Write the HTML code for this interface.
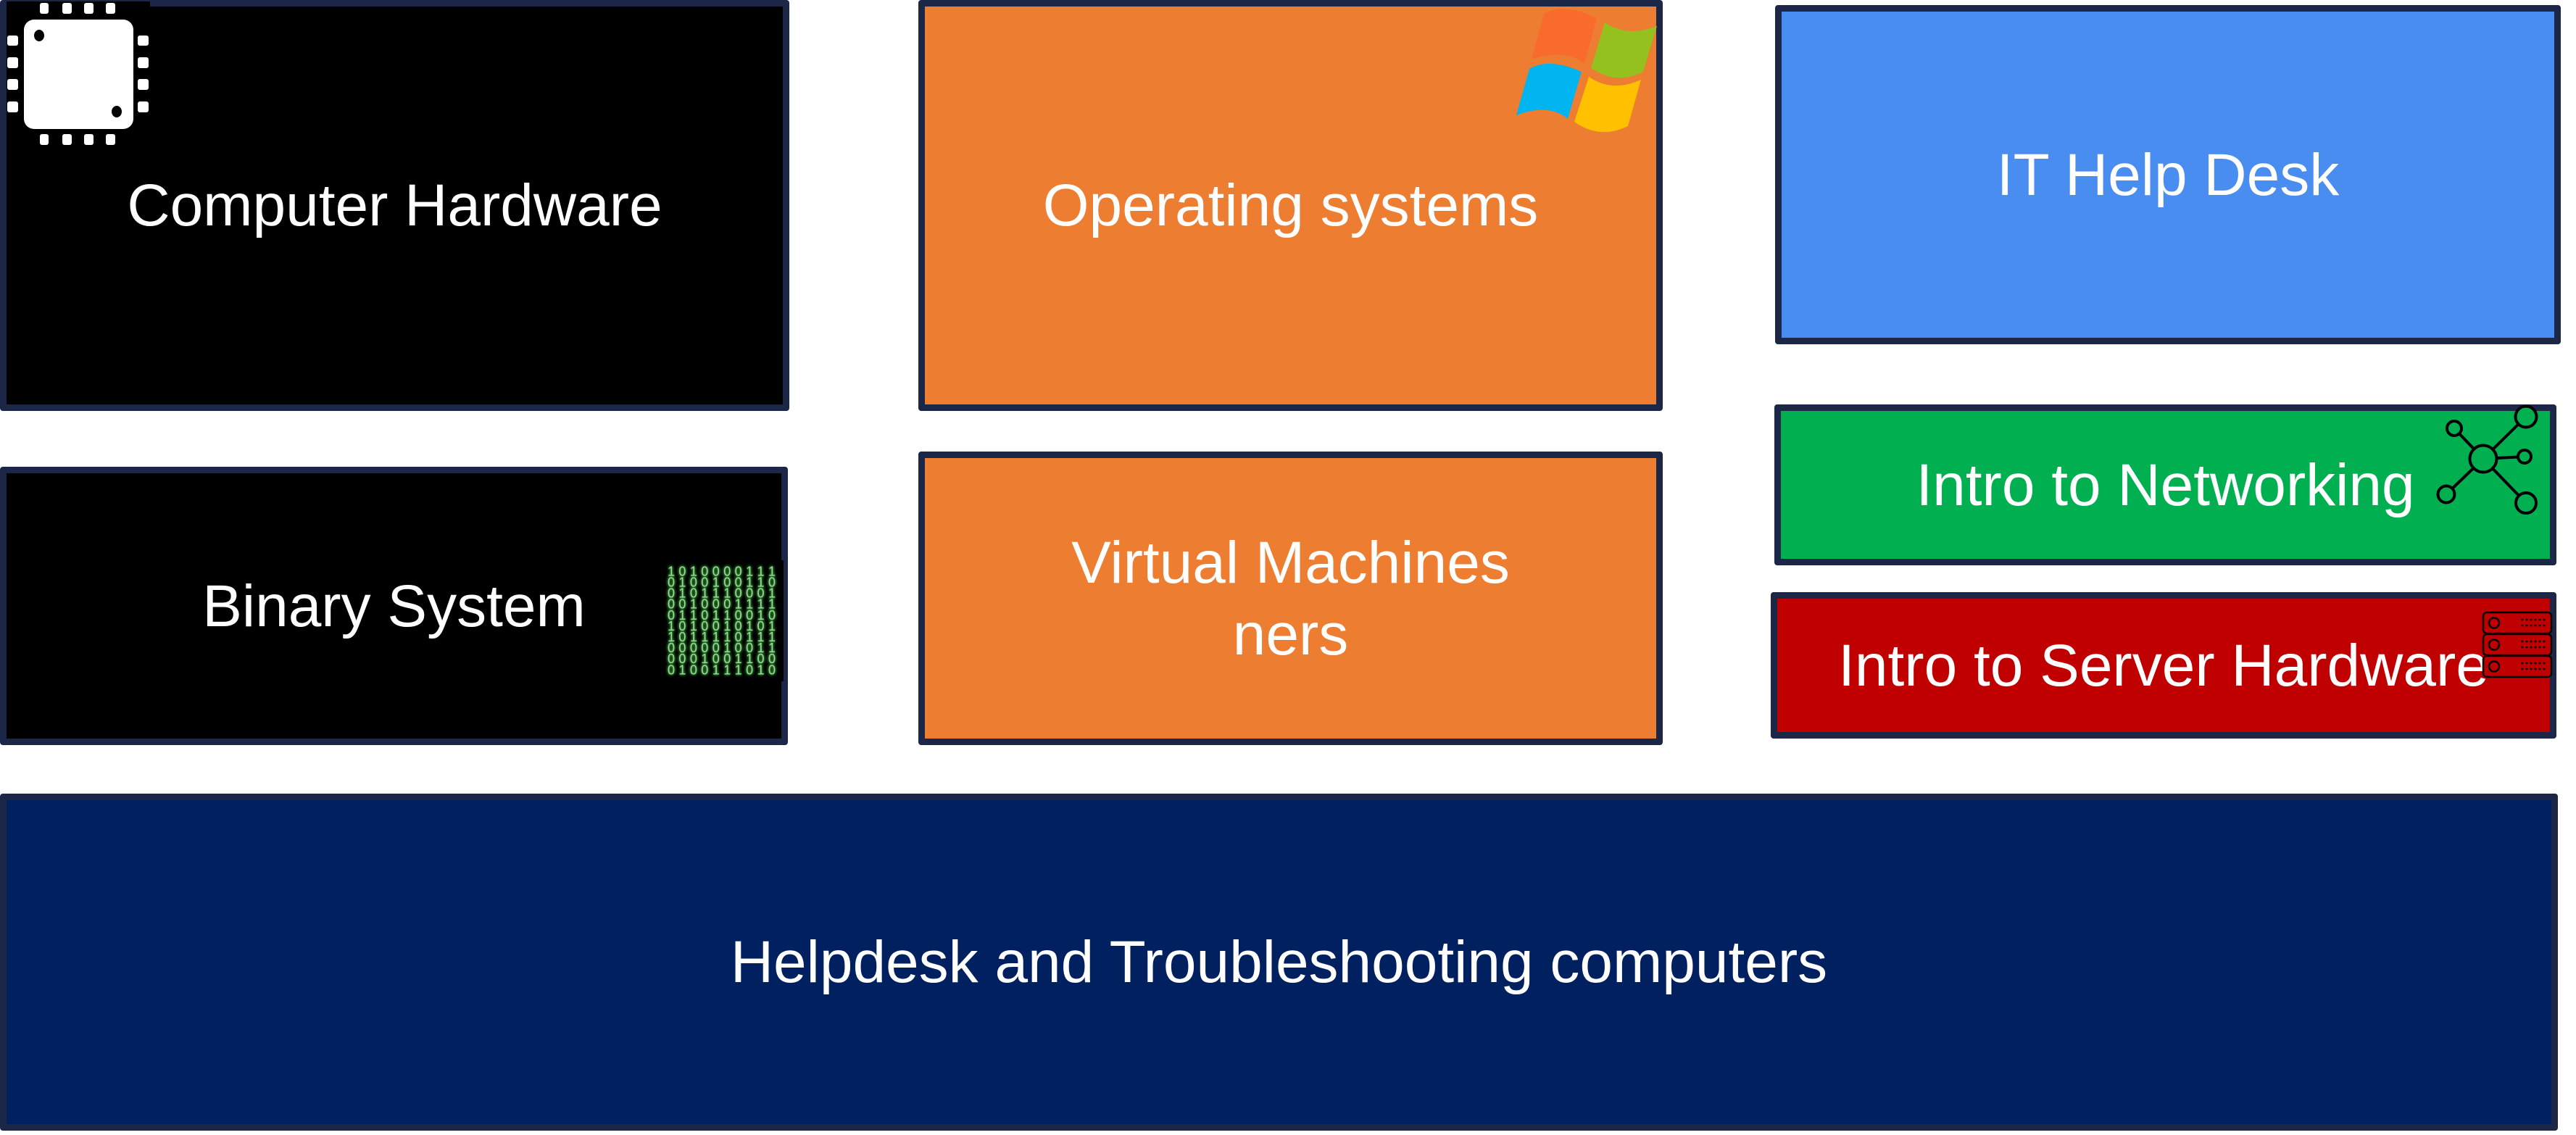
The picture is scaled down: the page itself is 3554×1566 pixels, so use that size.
<!DOCTYPE html>
<html>
<head>
<meta charset="utf-8">
<style>
  html, body { margin:0; padding:0; }
  body { width:3554px; height:1566px; background:#ffffff; position:relative; overflow:hidden;
         font-family:"Liberation Sans", Arial, sans-serif; }
  .box { position:absolute; box-sizing:border-box; border:9px solid #1c2747; border-radius:4px;
         display:flex; align-items:center; justify-content:center; text-align:center;
         color:#ffffff; font-size:82px; line-height:99px; white-space:nowrap; }
  svg.ov { position:absolute; left:0; top:0; }
</style>
</head>
<body>
  <div class="box" style="left:0px; top:0px; width:1089px; height:567px; background:#000000;">Computer Hardware</div>
  <div class="box" style="left:1267px; top:0px; width:1027px; height:567px; background:#ed7d31;">Operating systems</div>
  <div class="box" style="left:2449px; top:7px; width:1084px; height:468px; background:#4a8df0;">IT Help Desk</div>
  <div class="box" style="left:0px; top:644px; width:1087px; height:384px; background:#000000;">Binary System</div>
  <div class="box" style="left:1267px; top:623px; width:1027px; height:405px; background:#ed7d31;">Virtual Machines<br>ners</div>
  <div class="box" style="left:2448px; top:558px; width:1079px; height:222px; background:#00b050;">Intro to Networking</div>
  <div class="box" style="left:2443px; top:817px; width:1084px; height:202px; background:#c00000;">Intro to Server Hardware</div>
  <div class="box" style="left:0px; top:1095px; width:3529px; height:465px; background:#002060;">Helpdesk and Troubleshooting computers</div>

  <svg class="ov" width="3554" height="1566" viewBox="0 0 3554 1566" xmlns="http://www.w3.org/2000/svg">
    <!-- Chip icon -->
    <rect x="9" y="2" width="198" height="198" fill="#000000"/>
    <g fill="#ffffff">
      <rect x="33" y="27" width="151" height="151" rx="14" ry="14"/>
      <rect x="55" y="4" width="12" height="15" rx="3"/>
      <rect x="86" y="4" width="13" height="15" rx="3"/>
      <rect x="116" y="4" width="13" height="15" rx="3"/>
      <rect x="146" y="4" width="13" height="15" rx="3"/>
      <rect x="55" y="185" width="12" height="15" rx="3"/>
      <rect x="86" y="185" width="13" height="15" rx="3"/>
      <rect x="116" y="185" width="13" height="15" rx="3"/>
      <rect x="146" y="185" width="13" height="15" rx="3"/>
      <rect x="10" y="49" width="15" height="14" rx="3"/>
      <rect x="10" y="79" width="15" height="15" rx="3"/>
      <rect x="10" y="109" width="15" height="15" rx="3"/>
      <rect x="10" y="140" width="15" height="15" rx="3"/>
      <rect x="190" y="49" width="15" height="14" rx="3"/>
      <rect x="190" y="79" width="15" height="15" rx="3"/>
      <rect x="190" y="109" width="15" height="15" rx="3"/>
      <rect x="190" y="140" width="15" height="15" rx="3"/>
    </g>
    <ellipse cx="54" cy="49" rx="7" ry="8" fill="#000000"/>
    <ellipse cx="161" cy="154" rx="7" ry="8" fill="#000000"/>

    <!-- Windows logo -->
    <path d="M2130,19 Q2157,3 2203,25 L2186,88 Q2160,66 2113,82 Z" fill="#f96b2d"/>
    <path d="M2214,31 Q2245,52 2286,36 L2267,99 Q2230,118 2195,94 Z" fill="#95c11f"/>
    <path d="M2110,95 Q2137,79 2182,99 L2163,164 Q2137,142 2092,159 Z" fill="#00b4f0"/>
    <path d="M2192,106 Q2224,128 2264,110 L2246,174 Q2207,193 2172,168 Z" fill="#ffc000"/>

    <!-- Binary matrix image -->
    <rect x="918" y="773" width="163" height="167" fill="#000000"/>
    <g fill="#93e093" font-family="'Liberation Sans', Arial, sans-serif" font-size="18" text-anchor="middle" style="filter:drop-shadow(0 0 2px #4caf4c) drop-shadow(0 0 1px #3a8a3a)">
      <text x="926 941.4 956.9 972.3 987.8 1003.2 1018.6 1034.1 1049.5 1065" y="794.4">1010000111</text>
      <text x="926 941.4 956.9 972.3 987.8 1003.2 1018.6 1034.1 1049.5 1065" y="809.5">0100100110</text>
      <text x="926 941.4 956.9 972.3 987.8 1003.2 1018.6 1034.1 1049.5 1065" y="824.6">0101110001</text>
      <text x="926 941.4 956.9 972.3 987.8 1003.2 1018.6 1034.1 1049.5 1065" y="839.7">0010001111</text>
      <text x="926 941.4 956.9 972.3 987.8 1003.2 1018.6 1034.1 1049.5 1065" y="854.8">0110110010</text>
      <text x="926 941.4 956.9 972.3 987.8 1003.2 1018.6 1034.1 1049.5 1065" y="869.9">1010010101</text>
      <text x="926 941.4 956.9 972.3 987.8 1003.2 1018.6 1034.1 1049.5 1065" y="885">1011110111</text>
      <text x="926 941.4 956.9 972.3 987.8 1003.2 1018.6 1034.1 1049.5 1065" y="900.1">0000010011</text>
      <text x="926 941.4 956.9 972.3 987.8 1003.2 1018.6 1034.1 1049.5 1065" y="915.2">0001001100</text>
      <text x="926 941.4 956.9 972.3 987.8 1003.2 1018.6 1034.1 1049.5 1065" y="930.3">0100111010</text>
    </g>

    <!-- Network icon -->
    <g stroke="#000000" stroke-width="4" fill="#00b050">
      <line x1="3426" y1="633" x2="3485" y2="575"/>
      <line x1="3426" y1="633" x2="3386" y2="591"/>
      <line x1="3426" y1="633" x2="3483" y2="630"/>
      <line x1="3426" y1="633" x2="3375" y2="682"/>
      <line x1="3426" y1="633" x2="3485" y2="694"/>
      <circle cx="3426" cy="633" r="18.5"/>
      <circle cx="3485" cy="575" r="14.5"/>
      <circle cx="3386" cy="591" r="10"/>
      <circle cx="3483" cy="630" r="9"/>
      <circle cx="3375" cy="682" r="11.5"/>
      <circle cx="3485" cy="694" r="14"/>
    </g>

    <!-- Server icon -->
    <g stroke="#000000" stroke-width="2.5" fill="#c00000">
      <rect x="3426" y="845" width="94" height="29" rx="5"/>
      <rect x="3426" y="875" width="94" height="29" rx="5"/>
      <rect x="3426" y="905" width="94" height="29" rx="5"/>
      <circle cx="3441" cy="859.5" r="7"/>
      <circle cx="3441" cy="889.5" r="7"/>
      <circle cx="3441" cy="919.5" r="7"/>
    </g>
    <g fill="#000000">
      <g>
        <circle cx="3480" cy="855" r="1.5"/><circle cx="3486" cy="855" r="1.5"/><circle cx="3492" cy="855" r="1.5"/>
        <circle cx="3498" cy="855" r="1.5"/><circle cx="3504" cy="855" r="1.5"/><circle cx="3510" cy="855" r="1.5"/>
        <circle cx="3480" cy="863" r="1.5"/><circle cx="3486" cy="863" r="1.5"/><circle cx="3492" cy="863" r="1.5"/>
        <circle cx="3498" cy="863" r="1.5"/><circle cx="3504" cy="863" r="1.5"/><circle cx="3510" cy="863" r="1.5"/>
      </g>
      <g transform="translate(0,30)">
        <circle cx="3480" cy="855" r="1.5"/><circle cx="3486" cy="855" r="1.5"/><circle cx="3492" cy="855" r="1.5"/>
        <circle cx="3498" cy="855" r="1.5"/><circle cx="3504" cy="855" r="1.5"/><circle cx="3510" cy="855" r="1.5"/>
        <circle cx="3480" cy="863" r="1.5"/><circle cx="3486" cy="863" r="1.5"/><circle cx="3492" cy="863" r="1.5"/>
        <circle cx="3498" cy="863" r="1.5"/><circle cx="3504" cy="863" r="1.5"/><circle cx="3510" cy="863" r="1.5"/>
      </g>
      <g transform="translate(0,60)">
        <circle cx="3480" cy="855" r="1.5"/><circle cx="3486" cy="855" r="1.5"/><circle cx="3492" cy="855" r="1.5"/>
        <circle cx="3498" cy="855" r="1.5"/><circle cx="3504" cy="855" r="1.5"/><circle cx="3510" cy="855" r="1.5"/>
        <circle cx="3480" cy="863" r="1.5"/><circle cx="3486" cy="863" r="1.5"/><circle cx="3492" cy="863" r="1.5"/>
        <circle cx="3498" cy="863" r="1.5"/><circle cx="3504" cy="863" r="1.5"/><circle cx="3510" cy="863" r="1.5"/>
      </g>
    </g>
  </svg>
</body>
</html>
